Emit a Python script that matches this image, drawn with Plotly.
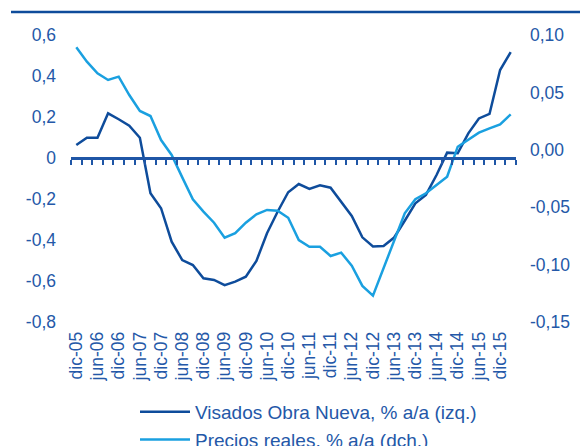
import plotly.graph_objects as go

quarters = ["dic-05", "mar-06", "jun-06", "sep-06", "dic-06", "mar-07", "jun-07", "sep-07",
            "dic-07", "mar-08", "jun-08", "sep-08", "dic-08", "mar-09", "jun-09", "sep-09",
            "dic-09", "mar-10", "jun-10", "sep-10", "dic-10", "mar-11", "jun-11", "sep-11",
            "dic-11", "mar-12", "jun-12", "sep-12", "dic-12", "mar-13", "jun-13", "sep-13",
            "dic-13", "mar-14", "jun-14", "sep-14", "dic-14", "mar-15", "jun-15", "sep-15",
            "dic-15", "mar-16"]

visados = [0.063, 0.099, 0.099, 0.218, 0.189, 0.158, 0.099, -0.172, -0.245, -0.408,
           -0.498, -0.522, -0.587, -0.595, -0.620, -0.603, -0.579, -0.502, -0.367, -0.262,
           -0.167, -0.127, -0.151, -0.133, -0.145, -0.213, -0.283, -0.387, -0.432, -0.429,
           -0.388, -0.306, -0.221, -0.180, -0.083, 0.026, 0.023, 0.120, 0.193, 0.215,
           0.429, 0.516]

precios = [0.0893, 0.0768, 0.0666, 0.0608, 0.0637, 0.0477, 0.0338, 0.0294, 0.0085, -0.0045,
           -0.0240, -0.0431, -0.0539, -0.0635, -0.0766, -0.0727, -0.0635, -0.0562, -0.0524, -0.0530,
           -0.0592, -0.0786, -0.0844, -0.0844, -0.0925, -0.0896, -0.1010, -0.1186, -0.1270, -0.1030,
           -0.0789, -0.0553, -0.0431, -0.0379, -0.0307, -0.0234, 0.0027, 0.0091, 0.0149, 0.0187,
           0.0222, 0.0309]

# every second quarter is labelled
x_ticktext = [q if i % 2 == 0 else "" for i, q in enumerate(quarters)]

left_ticks = [-0.8, -0.6, -0.4, -0.2, 0, 0.2, 0.4, 0.6]
left_text = ["-0,8", "-0,6", "-0,4", "-0,2", "0", "0,2", "0,4", "0,6"]
right_ticks = [-0.15, -0.10, -0.05, 0.0, 0.05, 0.10]
right_text = ["-0,15", "-0,10", "-0,05", "0,00", "0,05", "0,10"]

DARK = "#0E4C9B"
LIGHT = "#1AA0E0"
TXT = "#2458A8"
AX = "#1F56A6"
FONT = "Liberation Sans, Arial, sans-serif"

LEFT_MIN, LEFT_MAX = -0.8, 0.6
zero_frac = (0 - LEFT_MIN) / (LEFT_MAX - LEFT_MIN)

fig = go.Figure()
fig.add_trace(go.Scatter(x=quarters, y=visados, mode="lines", name="Visados Obra Nueva, % a/a (izq.)",
                         line=dict(color=DARK, width=2.5), xaxis="x", yaxis="y"))
fig.add_trace(go.Scatter(x=quarters, y=precios, mode="lines", name="Precios reales, % a/a (dch.)",
                         line=dict(color=LIGHT, width=2.5), xaxis="x", yaxis="y2"))

n = len(quarters)
fig.update_layout(
    width=580, height=438,
    margin=dict(l=63, r=72, t=27, b=124, autoexpand=False),
    paper_bgcolor="white", plot_bgcolor="white",
    font=dict(family=FONT, color=TXT, size=17),
    showlegend=True,
    legend=dict(x=(135 - 71) / 445, y=-0.247, xanchor="left", yanchor="top", itemwidth=50,
                font=dict(size=19, color=TXT), bgcolor="rgba(0,0,0,0)"),
    xaxis=dict(type="category", categoryorder="array", categoryarray=quarters, domain=[0, 1],
               anchor="free", position=zero_frac,
               range=[-0.5, n - 0.5], tickmode="array", tickvals=quarters,
               ticktext=x_ticktext, tickangle=-90, tickson="boundaries",
               ticks="outside", ticklen=5, tickwidth=2, tickcolor=AX,
               showline=True, linecolor=AX, linewidth=2.5, showgrid=False,
               zeroline=False, automargin=False, ticklabelstandoff=165,
               tickfont=dict(size=17.5, color=TXT)),
    yaxis=dict(range=[LEFT_MIN, LEFT_MAX], tickmode="array", tickvals=left_ticks, ticktext=left_text,
               domain=[0, 1], showgrid=False, zeroline=False, showline=False, ticks="",
               automargin=False, ticklabelstandoff=14, tickfont=dict(size=17.5, color=TXT)),
    yaxis2=dict(range=[-0.15, 0.10], overlaying="y", side="right", anchor="x", tickmode="array",
                tickvals=right_ticks, ticktext=right_text, showgrid=False, zeroline=False,
                showline=False, ticks="", automargin=False, ticklabelstandoff=13,
                tickfont=dict(size=17.5, color=TXT)),
    shapes=[dict(type="line", xref="paper", yref="paper", x0=(11 - 71) / 445, x1=(600 - 71) / 445,
                 y0=(322 - 12) / 287, y1=(322 - 12) / 287, line=dict(color=DARK, width=2.5))],
)

fig.write_html("out.html")
